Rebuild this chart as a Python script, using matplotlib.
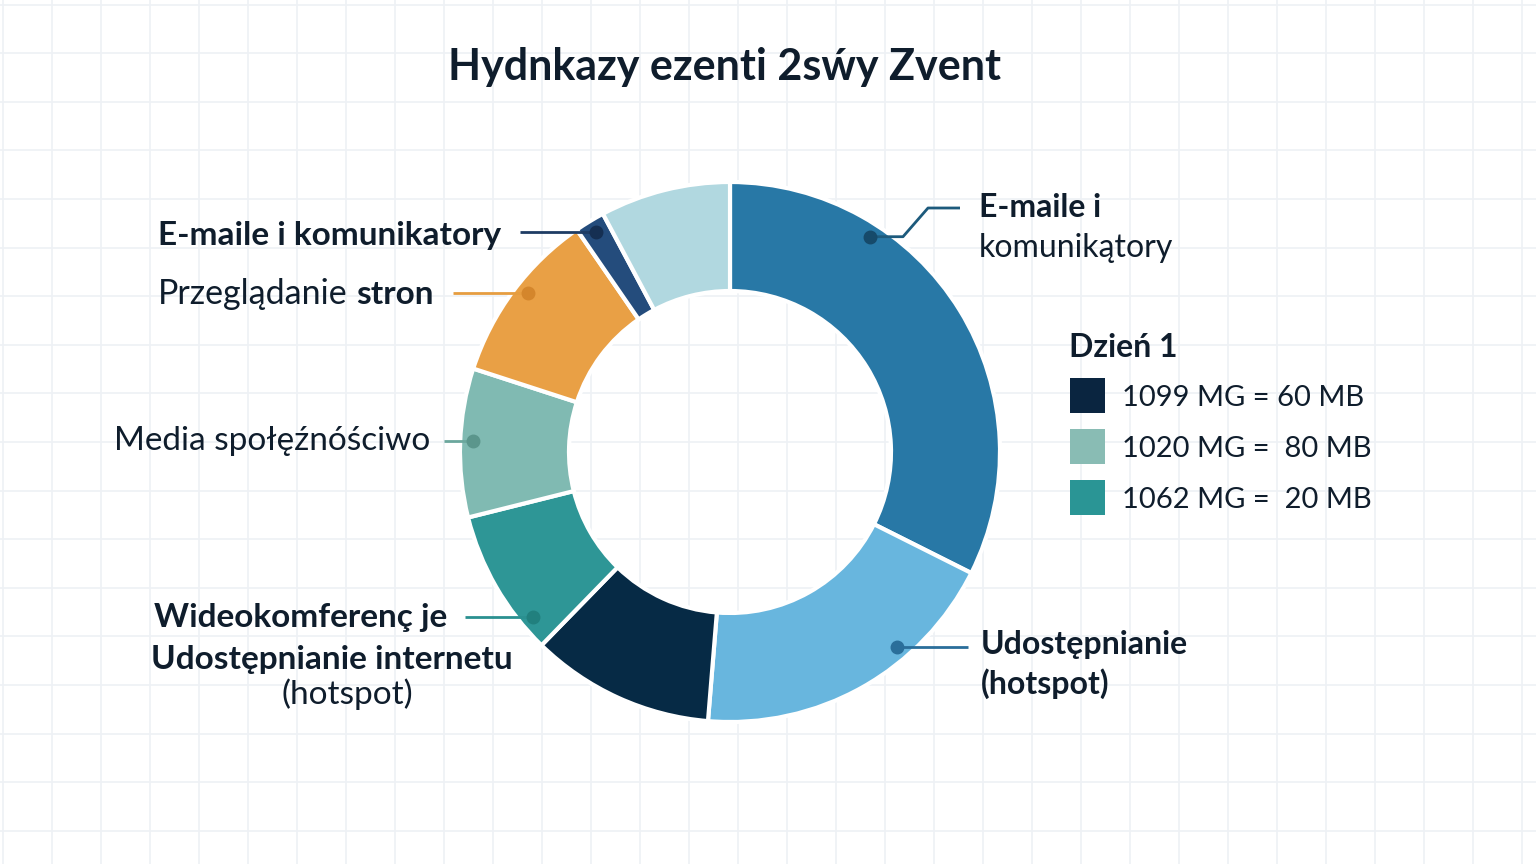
import matplotlib
matplotlib.use('Agg')
import matplotlib.pyplot as plt
from matplotlib.patches import Rectangle
import numpy as np

plt.rcParams['font.family'] = ['Lato', 'DejaVu Sans']

title = 'Hydnkazy ezenti 2sẃy Zvent'

# donut segments, clockwise from 12 o'clock (share of total, %)
segments = ['E-maile i komunikatory', 'Udostępnianie (hotspot)', 'Udostępnianie internetu',
            'Wideokomferencje', 'Media społęźnóściwo', 'Przeglądanie stron',
            'E-maile i komunikatory (2)', 'Inne']
shares = [32.4, 18.9, 11.0, 8.8, 8.9, 10.4, 1.8, 7.8]
colors = ['#2878a6', '#68b6de', '#062a45', '#2e9696', '#80bab2', '#e9a045', '#244c7c', '#b1d8e0']

legend_title = 'Dzień 1'
legend_labels = ['1099 MG = 60 MB', '1020 MG =  80 MB', '1062 MG =  20 MB']
legend_colors = ['#0a2540', '#89bcb4', '#2a9595']

text_color = '#0f1d2c'

fig = plt.figure(figsize=(15.36, 8.64), dpi=100)
fig.patch.set_facecolor('white')
ax = fig.add_axes([0, 0, 1, 1])

# pixel coordinates, origin top-left
cx, cy, R, W = 730, 452, 270, 109

for gx in np.arange(3, 1536, 49):
    ax.axvline(gx, color='#eef1f5', lw=1.2, zorder=0)
for gy in np.arange(4.5, 864, 48.6):
    ax.axhline(gy, color='#eef1f5', lw=1.2, zorder=0)

# y axis is flipped, so counterclock=True reads clockwise on screen
ax.pie(shares, colors=colors, startangle=-90, counterclock=True, center=(cx, cy), radius=R,
       frame=True, wedgeprops=dict(width=W, edgecolor='white', linewidth=3))
ax.set_xlim(0, 1536)
ax.set_ylim(864, 0)
ax.set_aspect('equal')
ax.axis('off')

ax.text(725, 80, title, ha='center', va='baseline', fontsize=31, fontweight='bold', color=text_color)

# callouts: dot angle (deg clockwise from top), path after the dot, line colour, dot colour
callouts = [
    (33.1, [(903, None), (928, 208), (960, 208)], '#1d5a7c', '#164a6a'),
    (139.5, [(968, None)], '#2a6e9a', '#2a6e9a'),
    (230.1, [(465, None)], '#2a9090', '#21807e'),
    (272.5, [(444, None)], '#6ba79d', '#5b968c'),
    (308.2, [(453, None)], '#e69d40', '#d4862c'),
    (328.7, [(520, None)], '#1e3c64', '#152f52'),
]
for ang, path, lc, dc in callouts:
    a = np.deg2rad(ang)
    dx = cx + 257 * np.sin(a)
    dy = cy - 257 * np.cos(a)
    xs = [dx] + [p[0] for p in path]
    ys = [dy] + [dy if p[1] is None else p[1] for p in path]
    ax.plot(xs, ys, color=lc, lw=2, zorder=5, solid_capstyle='butt')
    ax.plot(dx, dy, 'o', ms=9, color=dc, zorder=6)

fs = 24
ax.text(501, 245, 'E-maile i komunikatory', ha='right', va='baseline', fontsize=fs,
        fontweight='bold', color=text_color)
t_bold = ax.text(434, 304, 'stron', ha='right', va='baseline', fontsize=fs,
                 fontweight='bold', color=text_color)
ax.text(430, 450, 'Media społęźnóściwo', ha='right', va='baseline', fontsize=fs, color=text_color)
ax.text(447, 627, 'Wideokomferenç je', ha='right', va='baseline', fontsize=fs,
        fontweight='bold', color=text_color)
ax.text(332, 669, 'Udostępnianie internetu', ha='center', va='baseline', fontsize=fs,
        fontweight='bold', color=text_color)
ax.text(347, 704, '(hotspot)', ha='center', va='baseline', fontsize=fs, color=text_color)

fr = 23
ax.text(979, 217, 'E-maile i', ha='left', va='baseline', fontsize=fr, fontweight='bold', color=text_color)
ax.text(979, 257, 'komunikątory', ha='left', va='baseline', fontsize=fr, color=text_color)
ax.text(981, 654, 'Udostępnianie', ha='left', va='baseline', fontsize=fr, fontweight='bold', color=text_color)
ax.text(981, 694, '(hotspot)', ha='left', va='baseline', fontsize=fr, fontweight='bold', color=text_color)

fig.canvas.draw()
bb = t_bold.get_window_extent()
ax.text(bb.x0 - 9, 304, 'Przeglądanie', ha='right', va='baseline', fontsize=24.5, color=text_color)

# legend
ax.text(1069, 357, legend_title, ha='left', va='baseline', fontsize=23, fontweight='bold',
        color=text_color)
for i, (lab, col) in enumerate(zip(legend_labels, legend_colors)):
    top = 378 + 51 * i
    ax.add_patch(Rectangle((1070, top), 35, 35, facecolor=col, edgecolor='none', zorder=4))
    ax.text(1122, top + 28, lab, ha='left', va='baseline', fontsize=21, color=text_color)

fig.savefig('out.png', dpi=100, facecolor='white')
